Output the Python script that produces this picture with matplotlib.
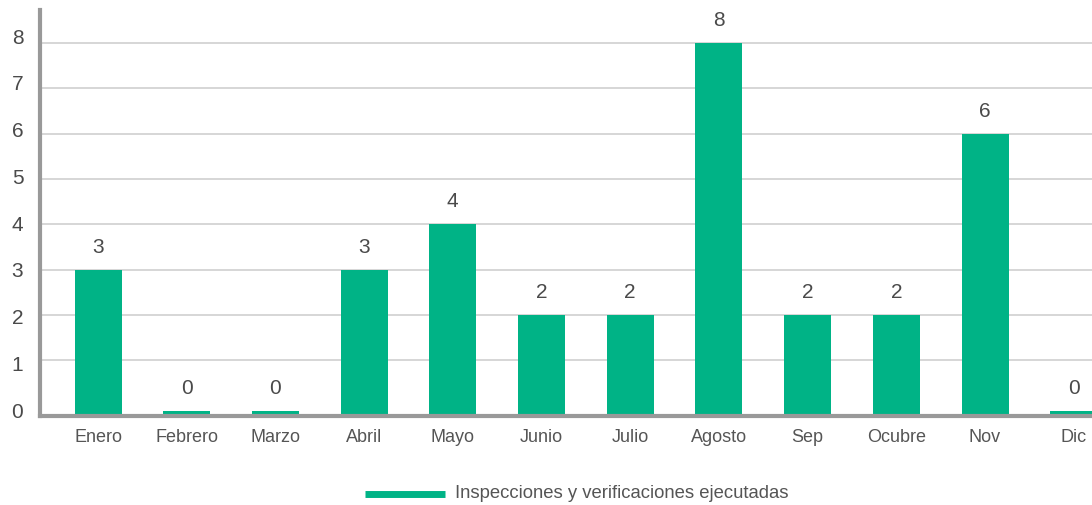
import numpy as np
import matplotlib
matplotlib.use("Agg")
import matplotlib.pyplot as plt
from matplotlib.lines import Line2D
from matplotlib.transforms import ScaledTranslation

plt.rcParams['font.family'] = ['Liberation Sans', 'DejaVu Sans']

months = ["Enero", "Febrero", "Marzo", "Abril", "Mayo", "Junio", "Julio",
          "Agosto", "Sep", "Ocubre", "Nov", "Dic"]
values = [3, 0, 0, 3, 4, 2, 2, 8, 2, 2, 6, 0]
yticks = [0, 1, 2, 3, 4, 5, 6, 7, 8]
legend_label = "Inspecciones y verificaciones ejecutadas"

GREEN = "#00B386"
W, H = 1092, 506
fig = plt.figure(figsize=(W / 100, H / 100), dpi=100)
ax = fig.add_axes([40 / W, (H - 417) / H, (W - 40) / W, (417 - 11) / H])

x = np.arange(len(months))
vals = np.array(values, dtype=float)
base = -0.2
tops = np.where(vals > 0, vals, base + 0.07)
ax.bar(x, tops - base, bottom=base, width=0.53, color=GREEN, zorder=2)

for xi, v, t in zip(x, values, tops):
    ax.annotate(str(v), (xi, t), xytext=(0, 18), textcoords='offset pixels',
                ha='center', va='baseline', fontsize=15, color='#4a4a4a')

ax.set_xlim(-0.654, -0.654 + (W - 40) / 88.7)
ax.set_ylim(-0.23, 8.73)
for t in yticks[1:]:
    ax.axhline(t, color='#cccccc', linewidth=1.1, zorder=0)
ax.set_yticks(yticks)
ax.set_yticklabels([str(t) for t in yticks])
ax.set_xticks(x)
ax.set_xticklabels(months)

for s in ['top', 'right']:
    ax.spines[s].set_visible(False)
for s in ['left', 'bottom']:
    ax.spines[s].set_color('#999999')
    ax.spines[s].set_linewidth(3)
    ax.spines[s].set_zorder(3)

ax.tick_params(axis='y', length=0, pad=12, labelsize=15, labelcolor='#4a4a4a')
ax.tick_params(axis='x', length=0, pad=9, labelsize=13, labelcolor='#555555')
for t, lab in zip(yticks, ax.get_yticklabels()):
    dy = 8 - 1.43 * (8 - t)
    lab.set_transform(lab.get_transform() +
                      ScaledTranslation(0, dy / 100, fig.dpi_scale_trans))

fig.add_artist(Line2D([365 / W, 445 / W], [1 - 495 / H, 1 - 495 / H],
                      color=GREEN, linewidth=5, solid_capstyle='butt',
                      transform=fig.transFigure))
fig.text(455 / W, 1 - 494 / H, legend_label, ha='left', va='center',
         fontsize=13.3, color='#555555')

fig.savefig("out.png", dpi=100)
